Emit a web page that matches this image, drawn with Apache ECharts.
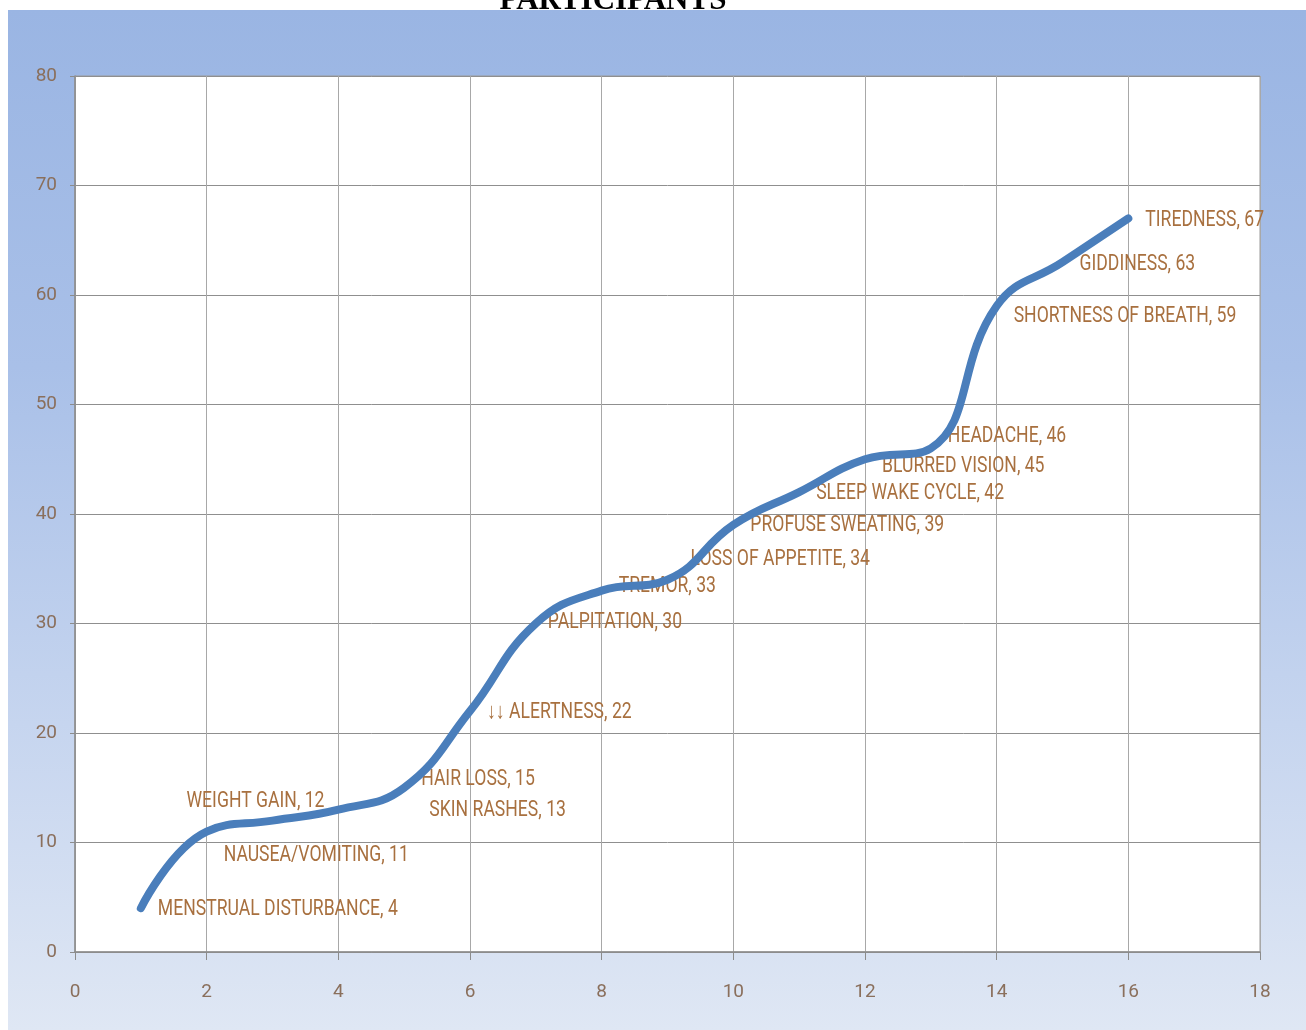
<!DOCTYPE html>
<html>
<head>
<meta charset="utf-8">
<script src="https://cdn.jsdelivr.net/npm/echarts@6/dist/echarts.min.js"></script>
<style>
  html, body { margin: 0; padding: 0; background: #fff; }
  #wrap { position: relative; width: 1306px; height: 1030px; overflow: hidden; background: #fff; }
  #panel { position: absolute; left: 8px; top: 10px; right: 0; bottom: 0;
           background: linear-gradient(to bottom, #9ab5e3 0%, #a9c0e8 35%, #c6d5ef 70%, #dfe7f4 100%); }
  #chart { position: absolute; left: 0; top: 0; width: 1306px; height: 1030px; }
</style>
</head>
<body>
<div id="wrap">
  <div id="panel"></div>
  <div id="chart"></div>
</div>
<script>
// Symptoms reported by participants, ranked by count
const symptoms = [
  'MENSTRUAL DISTURBANCE', 'NAUSEA/VOMITING', 'WEIGHT GAIN', 'SKIN RASHES',
  'HAIR LOSS', '↓↓ ALERTNESS', 'PALPITATION', 'TREMOR', 'LOSS OF APPETITE',
  'PROFUSE SWEATING', 'SLEEP WAKE CYCLE', 'BLURRED VISION', 'HEADACHE',
  'SHORTNESS OF BREATH', 'GIDDINESS', 'TIREDNESS'
];
const ranks = [1, 2, 3, 4, 5, 6, 7, 8, 9, 10, 11, 12, 13, 14, 15, 16];
const counts = [4, 11, 12, 13, 15, 22, 30, 33, 34, 39, 42, 45, 46, 59, 63, 67];
const xTicks = [0, 2, 4, 6, 8, 10, 12, 14, 16, 18];
const yTicks = [0, 10, 20, 30, 40, 50, 60, 70, 80];
const titleText = 'PARTICIPANTS';

// per-label nudges (px) so the tags don't collide
const labelNudge = [
  [0, 1], [0, 24], [-103, -19], [74, 1], [0, -8], [0, 1], [-5, -1], [0, -4],
  [6, -20], [0, 1], [0, 1], [0, 7], [0, -12], [0, 11], [0, 2], [0, 2]
];

const points = ranks.map((r, i) => [r, counts[i]]);

const chart = echarts.init(document.getElementById('chart'), null, { renderer: 'canvas' });
const axisFont = { color: '#8a6f5c', fontSize: 19, fontFamily: "'Liberation Sans Narrow', 'Roboto', sans-serif" };

chart.setOption({
  backgroundColor: 'transparent',
  animation: false,
  graphic: [{
    type: 'text',
    x: 613,
    y: -15,
    style: {
      text: titleText,
      align: 'center',
      font: "bold 31px 'Liberation Serif', 'DejaVu Serif', serif",
      fill: '#000'
    }
  }],
  grid: {
    left: 75, right: 46, top: 76, bottom: 78,
    show: true, backgroundColor: '#ffffff', borderColor: '#9a9a9a', borderWidth: 1
  },
  xAxis: {
    type: 'value', min: xTicks[0], max: xTicks[xTicks.length - 1], interval: 2,
    axisLine: { show: true, onZero: false, lineStyle: { color: '#8c8c8c', width: 1.5 } },
    axisTick: { show: true, length: 8, lineStyle: { color: '#8c8c8c' } },
    axisLabel: Object.assign({ margin: 31 }, axisFont),
    splitLine: { show: true, lineStyle: { color: '#a8a8a8', width: 1 } }
  },
  yAxis: {
    type: 'value', min: yTicks[0], max: yTicks[yTicks.length - 1], interval: 10,
    axisLine: { show: true, onZero: false, lineStyle: { color: '#8c8c8c', width: 1.5 } },
    axisTick: { show: true, length: 5, lineStyle: { color: '#8c8c8c' } },
    axisLabel: Object.assign({ margin: 18 }, axisFont),
    splitLine: { show: true, lineStyle: { color: '#8f8f8f', width: 1 } }
  },
  series: [
    {
      // data tags, narrow lettering, sitting underneath the curve
      type: 'custom',
      z: 1,
      data: points,
      renderItem: function (params, api) {
        const i = params.dataIndex;
        const pt = api.coord([api.value(0), api.value(1)]);
        const nudge = labelNudge[i];
        return {
          type: 'text',
          x: pt[0] + 17 + nudge[0],
          y: pt[1] + nudge[1],
          scaleX: 0.8,
          style: {
            text: symptoms[i] + ', ' + api.value(1),
            fill: '#a8703f',
            font: "22px 'Roboto', sans-serif",
            align: 'left',
            verticalAlign: 'middle'
          }
        };
      }
    },
    {
      type: 'line',
      zlevel: 1,
      data: points,
      smooth: 0.45,
      showSymbol: false,
      lineStyle: { color: '#4a7ebb', width: 8, cap: 'round', join: 'round' }
    }
  ]
});
</script>
</body>
</html>
